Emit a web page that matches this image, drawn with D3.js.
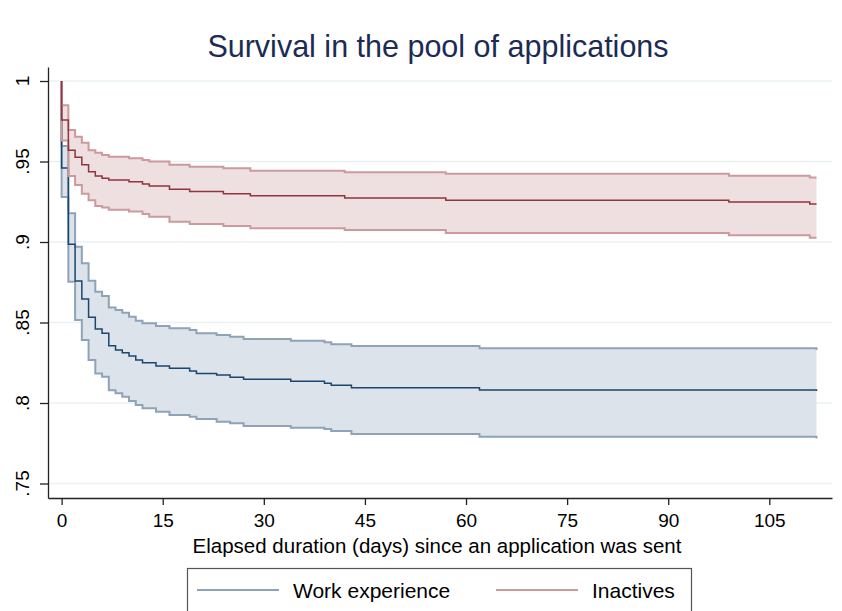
<!DOCTYPE html>
<html>
<head>
<meta charset="utf-8">
<script src="https://cdn.jsdelivr.net/npm/d3@7"></script>
<style>
  body { margin: 0; background: #fff; }
  svg text { font-family: "Liberation Sans", Arial, Helvetica, sans-serif; }
</style>
</head>
<body>
<svg id="chart"></svg>
<script>
// Kaplan-Meier estimates (day, survivor, 95% CI)
const workDays  = [0, 0, 1, 2, 3, 4, 5, 6, 7, 8, 9, 10, 11, 12, 14, 16, 19, 20, 23, 25, 27, 34, 39, 40, 43, 62, 112];
const workSurv  = [1, 0.946, 0.8986, 0.8758, 0.8646, 0.8532, 0.846, 0.8433, 0.8356, 0.833, 0.8312, 0.8292, 0.8267, 0.825, 0.823, 0.8216, 0.8199, 0.8184, 0.8174, 0.816, 0.8147, 0.8135, 0.8122, 0.811, 0.8095, 0.8081, 0.8075];
const workUpper = [1, 0.9596, 0.9178, 0.897, 0.8868, 0.876, 0.8691, 0.8665, 0.8594, 0.8578, 0.856, 0.8536, 0.8511, 0.8495, 0.8478, 0.8464, 0.8453, 0.8433, 0.8422, 0.8412, 0.8398, 0.8387, 0.8377, 0.8365, 0.8354, 0.834, 0.833];
const workLower = [1, 0.928, 0.8753, 0.8516, 0.8391, 0.8267, 0.8184, 0.8163, 0.808, 0.806, 0.8039, 0.8012, 0.7988, 0.7967, 0.7946, 0.7925, 0.7915, 0.79, 0.7884, 0.7874, 0.7857, 0.7847, 0.7839, 0.7826, 0.7807, 0.7791, 0.778];

const inacDays  = [0, 0, 1, 2, 3, 4, 5, 6, 7, 10, 12, 13, 16, 19, 24, 28, 42, 57, 99, 111, 112];
const inacSurv  = [1, 0.9758, 0.957, 0.9526, 0.948, 0.9437, 0.941, 0.9396, 0.9385, 0.9375, 0.936, 0.9348, 0.9327, 0.9313, 0.930, 0.9288, 0.9273, 0.9259, 0.9248, 0.9236, 0.9236];
const inacUpper = [1, 0.985, 0.9696, 0.9654, 0.9617, 0.957, 0.9555, 0.954, 0.953, 0.952, 0.951, 0.950, 0.948, 0.9468, 0.9458, 0.9443, 0.9433, 0.9424, 0.9412, 0.940, 0.940];
const inacLower = [1, 0.963, 0.941, 0.9354, 0.930, 0.926, 0.9224, 0.9215, 0.920, 0.919, 0.9174, 0.9157, 0.9126, 0.9112, 0.910, 0.9085, 0.9075, 0.9056, 0.9042, 0.9027, 0.9027];

const xTicks = [0, 15, 30, 45, 60, 75, 90, 105];
const yTicks = [0.75, 0.8, 0.85, 0.9, 0.95, 1];
const yTickLabels = ['.75', '.8', '.85', '.9', '.95', '1'];
const legendNames = ['Work experience', 'Inactives'];

const width = 842, height = 611;
const svg = d3.select('#chart').attr('width', width).attr('height', height);

const x = d3.scaleLinear().domain([-2.02, 114.3]).range([48, 832]);
const y = d3.scaleLinear().domain([0.741, 1.0087]).range([498, 67]);

const series = [
  { days: workDays, s: workSurv, u: workUpper, l: workLower,
    line: '#1a476f', ci: '#8fa3b8', fill: '#dde3ea' },
  { days: inacDays, s: inacSurv, u: inacUpper, l: inacLower,
    line: '#90353b', ci: '#cc999d', fill: '#eee0e1' }
];

// title
svg.append('text')
  .attr('x', 438).attr('y', 57)
  .attr('text-anchor', 'middle')
  .attr('font-size', 30.5)
  .attr('fill', '#1c2b55')
  .text('Survival in the pool of applications');

// gridlines
svg.append('g')
  .selectAll('line')
  .data(yTicks)
  .join('line')
  .attr('x1', 48).attr('x2', 832)
  .attr('y1', d => y(d)).attr('y2', d => y(d))
  .attr('stroke', '#eaf1f3')
  .attr('stroke-width', 1.6);

// CI bands and curves
series.forEach(sr => {
  const pts = sr.days.map((d, i) => ({ d, s: sr.s[i], u: sr.u[i], l: sr.l[i] }));
  const area = d3.area().curve(d3.curveStepAfter)
    .x(p => x(p.d)).y0(p => y(p.l)).y1(p => y(p.u));
  svg.append('path').datum(pts)
    .attr('d', area)
    .attr('fill', sr.fill);
});

series.forEach(sr => {
  const pts = sr.days.map((d, i) => ({ d, s: sr.s[i], u: sr.u[i], l: sr.l[i] }));
  ['u', 'l'].forEach(k => {
    svg.append('path').datum(pts)
      .attr('d', d3.line().curve(d3.curveStepAfter).x(p => x(p.d)).y(p => y(p[k])))
      .attr('fill', 'none')
      .attr('stroke', sr.ci)
      .attr('stroke-width', 2);
  });
  svg.append('path').datum(pts)
    .attr('d', d3.line().curve(d3.curveStepAfter).x(p => x(p.d)).y(p => y(p.s)))
    .attr('fill', 'none')
    .attr('stroke', sr.line)
    .attr('stroke-width', 1.5);
});

// y axis
const yAxis = svg.append('g')
  .attr('transform', 'translate(48,0)')
  .call(d3.axisLeft(y).tickValues(yTicks).tickSize(8).tickSizeOuter(0).tickFormat(''));
yAxis.select('.domain').attr('stroke', '#222').attr('stroke-width', 1.3);
yAxis.selectAll('.tick line').attr('stroke', '#222').attr('stroke-width', 1.3);

svg.append('g')
  .selectAll('text')
  .data(yTicks)
  .join('text')
  .attr('transform', d => `translate(29,${y(d)}) rotate(-90)`)
  .attr('text-anchor', 'middle')
  .attr('font-size', 19)
  .attr('fill', '#000')
  .text((d, i) => yTickLabels[i]);

// x axis
const xAxis = svg.append('g')
  .attr('transform', 'translate(0,498)')
  .call(d3.axisBottom(x).tickValues(xTicks).tickSize(7).tickSizeOuter(0).tickPadding(9));
xAxis.select('.domain').attr('stroke', '#222').attr('stroke-width', 1.3);
xAxis.selectAll('.tick line').attr('stroke', '#222').attr('stroke-width', 1.3);
xAxis.selectAll('.tick text')
  .attr('font-size', 19)
  .attr('fill', '#000')
  .attr('font-family', '"Liberation Sans", Arial, sans-serif');

svg.append('text')
  .attr('x', 437).attr('y', 553)
  .attr('text-anchor', 'middle')
  .attr('font-size', 20.5)
  .attr('fill', '#000')
  .text('Elapsed duration (days) since an application was sent');

// legend
const legend = svg.append('g');
legend.append('rect')
  .attr('x', 187.5).attr('y', 568.5)
  .attr('width', 504).attr('height', 50)
  .attr('fill', '#fff')
  .attr('stroke', '#555')
  .attr('stroke-width', 1.2);

const legX = [[197, 279, 293], [496, 578, 592]];
legendNames.forEach((name, i) => {
  legend.append('line')
    .attr('x1', legX[i][0]).attr('x2', legX[i][1])
    .attr('y1', 590).attr('y2', 590)
    .attr('stroke', series[i].ci)
    .attr('stroke-width', 2);
  legend.append('text')
    .attr('x', legX[i][2]).attr('y', 598)
    .attr('font-size', 21)
    .attr('fill', '#000')
    .text(name);
});
</script>
</body>
</html>
